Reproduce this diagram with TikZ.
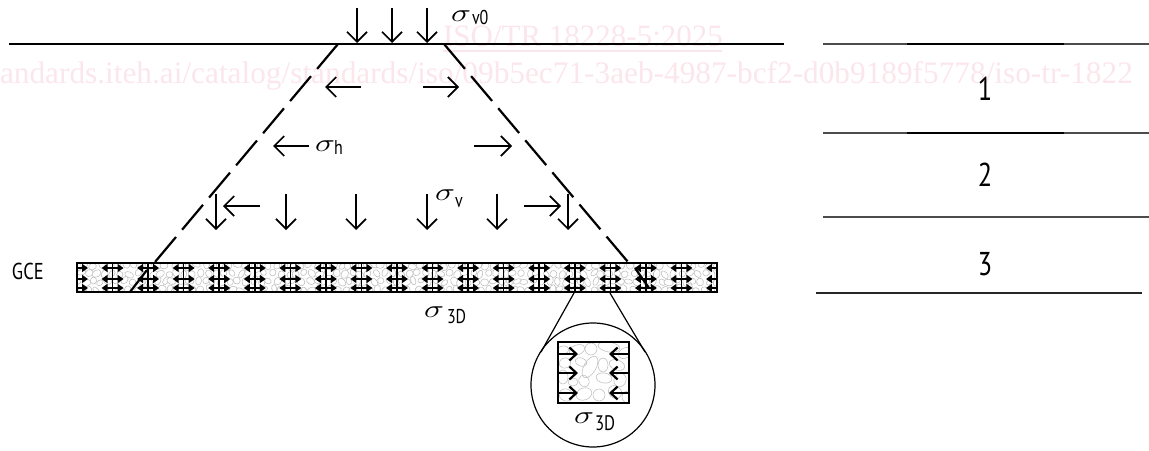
\documentclass[tikz,border=0pt]{standalone}
\usepackage{fontspec}
\usepackage{graphicx}
\setmainfont{Liberation Serif}
\newfontfamily\labelfont{PT Sans}
\usetikzlibrary{arrows.meta}
\definecolor{wm}{HTML}{FBE6EC}
\definecolor{peb}{HTML}{BEBEBE}
\newcommand{\sg}[1]{\scalebox{1.35}[1]{\fontsize{#1}{#1}\selectfont$\sigma$}}
\newcommand{\lbl}[2]{{\labelfont\fontsize{#1}{#1}\selectfont\scalebox{.8}[1]{#2}}}
\tikzset{
  x=1pt,y=-1pt,
  load/.style={line width=1.7pt,-{Straight Barb[length=10pt,width=20pt,line width=1.7pt]}},
  soil/.style={line width=2.2pt,dash pattern=on 32.5pt off 9.5pt},
  ground/.style={line width=2.7pt},
  confine/.style={line width=2pt,-{Triangle[length=6pt,width=8pt]}},
  inner/.style={line width=2.2pt,-{Straight Barb[length=7pt,width=13pt,line width=2.2pt]}},
  pebble/.style={draw=peb,line width=.55pt,fill=white},
  layer/.style={line width=1.6pt},
  txt/.style={inner sep=0pt,outer sep=0pt}
}
\begin{document}
\begin{tikzpicture}
\useasboundingbox (0,0) rectangle (1149,450);
% watermark
\node[txt,anchor=base west,text=wm] (wmA) at (443,46) {\fontsize{31}{31}\selectfont ISO/TR 18228-5:2025};
\draw[wm,line width=1.4pt] (443,51) -- (722,51);
\node[txt,anchor=base west,text=wm] (wmB) at (0,83) {\fontsize{31.3}{31.3}\selectfont andards.iteh.ai/catalog/standards/iso/09b5ec71-3aeb-4987-bcf2-d0b9189f5778/iso-tr-1822};
% ground
\coordinate (g1) at (9,44); \coordinate (g2) at (784,44);
\draw[ground] (g1) -- (g2);
% stress cone
\coordinate (cl1) at (338,44); \coordinate (cl2) at (155,262);
\coordinate (cr1) at (444,44); \coordinate (cr2) at (628,262);
\draw[soil] (cl1) -- (cl2);
\draw[soil] (cr1) -- (cr2);
% column
\begin{scope}
  \clip (77,263) rectangle (717,292);
  \fill[white] (77,263) rectangle (717,292);
  \pgfmathsetseed{4217}
  \foreach \r in {0,...,3}{
    \foreach \c in {0,...,80}{
      \pgfmathsetmacro{\px}{77+\c*8+mod(\r,2)*4+rand*1.6}
      \pgfmathsetmacro{\py}{265.5+\r*8+rand*1.4}
      \pgfmathsetmacro{\ra}{3.2+rnd*1.6}
      \pgfmathsetmacro{\rb}{2.4+rnd*1.2}
      \pgfmathsetmacro{\rt}{rnd*180}
      \draw[pebble,rotate around={\rt:(\px,\py)}] (\px,\py) ellipse ({\ra} and {\rb});
    }
  }
\end{scope}
\foreach \i in {0,...,18}{
  \pgfmathsetmacro{\vx}{77+\i*35.555}
  \foreach \yy in {268,279,288}{
    \ifnum\i<18 \draw[confine] (\vx,\yy) -- (\vx+11,\yy); \fi
    \ifnum\i>0 \draw[confine] (\vx,\yy) -- (\vx-11,\yy); \fi
  }
  \draw[line width=1.5pt] (\vx,263) -- (\vx,292);
}
\draw[line width=2pt] (77,263) rectangle (717,292);
% cone continuation through column
\draw[line width=2.2pt] (147,270) -- (130,292);
\draw[line width=2.2pt] (635,268) -- (649,288);
% applied loads
\foreach \x in {357,392,427}{ \draw[load] (\x,8) -- (\x,43); }
\foreach \x in {216,286,356,427,497,568}{ \draw[load] (\x,194) -- (\x,230); }
\foreach \a/\b/\y in {361/325/87,423/459/87,309/273/146,474/512/146,260/223/206,524/561/206}{
  \draw[load] (\a,\y) -- (\b,\y);
}
% stress labels
\node[txt,anchor=base west] (s0) at (451,21) {\sg{28}};
\node[txt,anchor=base west] (s0b) at (472,24) {\lbl{20}{v0}};
\node[txt,anchor=base west] (sh) at (315,151) {\sg{28}};
\node[txt,anchor=base west] (shb) at (334,154) {\lbl{20}{h}};
\node[txt,anchor=base west] (sv) at (435,200) {\sg{28}};
\node[txt,anchor=base west] (svb) at (455,207) {\lbl{20}{v}};
\node[txt,anchor=base west] (s3) at (424,317) {\sg{30}};
\node[txt,anchor=base west] (s3b) at (447,323) {\lbl{20}{3D}};
\node[txt,anchor=base west] (gce) at (12,279) {\lbl{23}{GCE}};
% detail
\coordinate (dl0) at (574,293); \coordinate (dl1) at (541,352);
\coordinate (dr0) at (610,293); \coordinate (dr1) at (645,352);
\draw[line width=1.2pt] (dl0) -- (dl1);
\draw[line width=1.2pt] (dr0) -- (dr1);
\draw[line width=1.2pt] (593,385) circle (62);
\begin{scope}
  \clip (558,342) rectangle (629,403);
  \foreach \ex/\ey/\era/\erb/\ert in {
    577/350/8/5/20, 591/349/6/6/0, 609/347/11/5/-10, 625/353/7/5/30,
    563/350/6/4/10, 565/363/6/5/20, 581/362/6/4/-20, 590/367/12/6/60,
    603/365/5/7/0, 617/365/8/5/-20, 563/377/5/7/0, 573/382/5/4/0,
    584/381/5/6/30, 604/378/8/5/-10, 620/380/7/6/70, 566/395/7/6/-20,
    584/394/8/6/20, 599/395/6/6/0, 615/392/6/7/50, 628/397/6/6/0}{
    \draw[draw=peb,line width=.55pt,rotate around={\ert:(\ex,\ey)}] (\ex,\ey) ellipse ({\era} and {\erb});
  }
\end{scope}
\draw[line width=2.1pt] (558,342) rectangle (629,403);
\foreach \y in {354,373,393}{
  \draw[inner] (558,\y) -- (578,\y);
  \draw[inner] (629,\y) -- (609,\y);
}
\node[txt,anchor=base west] (s3c) at (574,423) {\sg{31}};
\node[txt,anchor=base west] (s3d) at (595,430) {\lbl{21}{3D}};
% layer lines
\coordinate (a1) at (823,44); \coordinate (a2) at (1149,44);
\coordinate (b1) at (823,133); \coordinate (b2) at (1149,133);
\coordinate (c1) at (823,217); \coordinate (c2) at (1149,217);
\coordinate (d1) at (816,293); \coordinate (d2) at (1142,293);
\draw[layer,black!70] (a1) -- (a2);
\draw[layer,black] (907,44) -- (1064,44);
\draw[layer,black!70] (b1) -- (b2);
\draw[layer,black] (907,133) -- (1064,133);
\draw[layer,black!70] (c1) -- (c2);
\draw[layer,black!85] (d1) -- (d2);
\node[txt] (n1) at (985,89) {\lbl{33}{1}};
\node[txt] (n2) at (985,175) {\lbl{33}{2}};
\node[txt] (n3) at (985,264) {\lbl{33}{3}};
\end{tikzpicture}
\end{document}
